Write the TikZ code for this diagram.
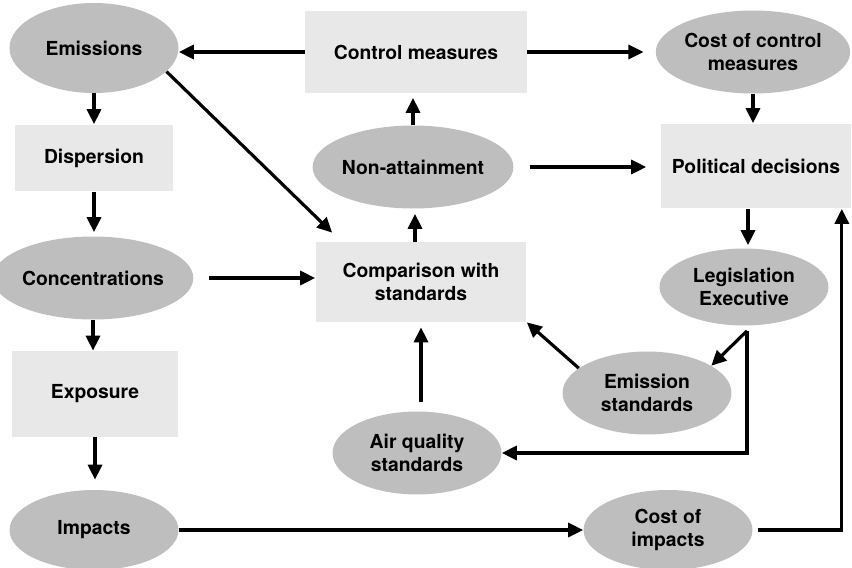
\documentclass[tikz,border=0pt]{standalone}
\usepackage{fontspec}
\setmainfont{TeX Gyre Heros}
\usetikzlibrary{shapes.geometric,arrows.meta}
\definecolor{ovalgray}{RGB}{190,190,190}
\definecolor{boxgray}{RGB}{232,232,232}

\begin{document}
\begin{tikzpicture}[x=0.02cm,y=-0.02cm,
        font=\fontsize{11}{13.5}\selectfont\bfseries,
        oval/.style={ellipse,fill=ovalgray,inner sep=0pt,minimum width=3.38cm,minimum height=1.66cm,align=center},
        box/.style={rectangle,fill=boxgray,inner sep=0pt,align=center},
        arr/.style={-{Triangle[length=0.3cm,width=0.28cm]},line width=1.8pt}]
        \useasboundingbox (0,0) rectangle (852,568);
        \node[oval,minimum height=1.8cm] (emissions) at (94,48) {Emissions};
        \node[box,minimum width=3.16cm,minimum height=1.34cm] (dispersion) at (94,158) {Dispersion};
        \node[oval,minimum width=3.6cm] (concentr) at (93,278) {Concentrations};
        \node[box,minimum width=3.34cm,minimum height=1.72cm] (exposure) at (95,394) {Exposure};
        \node[oval,minimum height=1.6cm] (impacts) at (94,530) {Impacts};
        \node[box,minimum width=4.44cm,minimum height=1.66cm] (control) at (416,52) {Control measures};
        \node[oval,minimum width=3.74cm] (costctrl) at (753,52) {Cost of control\\measures};
        \node[oval] (nonatt) at (413,167) {Non-attainment};
        \node[box,minimum width=3.82cm,minimum height=1.7cm] (polit) at (756,166) {Political decisions};
        \node[box,minimum width=4.22cm,minimum height=1.6cm] (compar) at (421,282) {Comparison with\\standards};
        \node[oval,minimum height=1.54cm] (legis) at (744,287) {Legislation\\Executive};
        \node[oval] (emisstd) at (647,393) {Emission\\standards};
        \node[oval] (airstd) at (417,453) {Air quality\\standards};
        \node[oval,minimum height=1.6cm] (costimp) at (668,530) {Cost of\\impacts};
        \draw[arr] (control.west) -- (control.west -| emissions.east);
        \draw[arr,shorten >=0.24cm] (control.east) -- (control.east -| costctrl.west);
        \draw[arr] (emissions.-18) -- ([xshift=0.34cm,yshift=0.18cm]compar.north west);
        \draw[arr] (emissions.south) -- (dispersion.north);
        \draw[arr,shorten >=0.08cm] (dispersion.south) -- (dispersion.south |- concentr.north);
        \draw[arr,shorten <=0.3cm] (concentr.east) -- (concentr.east -| compar.west);
        \draw[arr] (concentr.south) -- (concentr.south |- exposure.north);
        \draw[arr,shorten >=0.2cm] (exposure.south) -- (exposure.south |- impacts.north);
        \draw[arr] (impacts.east) -- (costimp.west);
        \draw[arr] ([xshift=0.1cm]costimp.east) -| ([xshift=-0.2cm]polit.south east);
        \draw[arr,shorten >=0.08cm] (nonatt.north) -- (nonatt.north |- control.south);
        \draw[arr,shorten >=0.1cm] ([xshift=0.04cm]nonatt.south |- compar.north) -- ([xshift=0.04cm]nonatt.south);
        \draw[arr,shorten <=0.32cm,shorten >=0.28cm] (nonatt.east) -- (nonatt.east -| polit.west);
        \draw[arr] (costctrl.south) -- (costctrl.south |- polit.north);
        \draw[arr,shorten >=0.06cm] ([xshift=0.08cm]legis.north |- polit.south) -- ([xshift=0.08cm]legis.north);
        \coordinate (split) at ([xshift=0.06cm,yshift=-0.1cm]legis.south);
        \draw[arr] (split) -- (emisstd.23);
        \draw[arr] (split) |- (airstd.east);
        \draw[arr] (emisstd.160) -- (compar.south east);
        \draw[arr,shorten <=0.18cm,shorten >=0.1cm] (compar.south |- airstd.north) -- (compar.south);
\end{tikzpicture}
\end{document}
